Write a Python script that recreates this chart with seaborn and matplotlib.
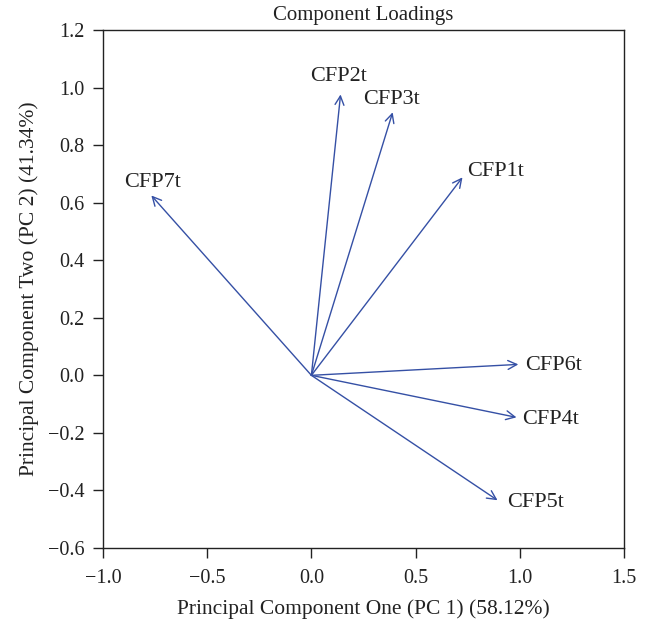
import matplotlib
matplotlib.use("Agg")
import matplotlib.pyplot as plt
import seaborn as sns

# Loadings (PC1, PC2)
variables = ["CFP1t", "CFP2t", "CFP3t", "CFP4t", "CFP5t", "CFP6t", "CFP7t"]
pc1 = [0.725, 0.14, 0.39, 0.984, 0.893, 0.993, -0.768]
pc2 = [0.688, 0.976, 0.914, -0.146, -0.434, 0.038, 0.625]

x_ticks = [-1.0, -0.5, 0.0, 0.5, 1.0, 1.5]
y_ticks = [-0.6, -0.4, -0.2, 0.0, 0.2, 0.4, 0.6, 0.8, 1.0, 1.2]

# label placement (offset points, ha)
label_pos = {
    "CFP1t": ((3.5, 4), "left"),
    "CFP2t": ((-1.5, 13), "center"),
    "CFP3t": ((-0.7, 9), "center"),
    "CFP4t": ((4.3, -1.2), "left"),
    "CFP5t": ((7, -1.8), "left"),
    "CFP6t": ((5, -0.5), "left"),
    "CFP7t": ((0.7, 9), "center"),
}

sns.set_theme(style="ticks")
plt.rcParams["font.family"] = ["Liberation Serif", "DejaVu Serif"]
plt.rcParams["axes.edgecolor"] = "#222222"

fig = plt.figure(figsize=(6.53, 6.25), dpi=100)
ax = fig.add_axes([0.1577, 0.1232, 0.7979, 0.8288])

arrow_color = "#3550a5"
for name, x, y in zip(variables, pc1, pc2):
    ax.annotate("", xy=(x, y), xytext=(0, 0),
                arrowprops=dict(arrowstyle="->", color=arrow_color, lw=1.0,
                                mutation_scale=16, shrinkA=0, shrinkB=0))
    off, ha = label_pos[name]
    ax.annotate(name, xy=(x, y), xytext=off, textcoords="offset points",
                ha=ha, va="center", fontsize=16, color="#222222")

ax.set_xlim(-1.0, 1.5)
ax.set_ylim(-0.6, 1.2)
ax.set_xticks(x_ticks)
ax.set_yticks(y_ticks)
ax.set_xticklabels([f"{t:.1f}".replace("-", "\u2212") for t in x_ticks])
ax.set_yticklabels([f"{t:.1f}".replace("-", "\u2212") for t in y_ticks])
ax.tick_params(direction="out", length=7, width=1, labelsize=14.5, colors="#222222")
ax.tick_params(axis="x", pad=8)
ax.tick_params(axis="y", pad=6.5)
for s in ax.spines.values():
    s.set_linewidth(1.0)

ax.set_title("Component Loadings", fontsize=15, pad=7.5, color="#222222")
ax.set_xlabel("Principal Component One (PC 1) (58.12%)", fontsize=15.5, labelpad=8, color="#222222")
ax.set_ylabel("Principal Component Two (PC 2) (41.34%)", fontsize=15.5, labelpad=6, color="#222222")

fig.savefig("out.png", dpi=100)
